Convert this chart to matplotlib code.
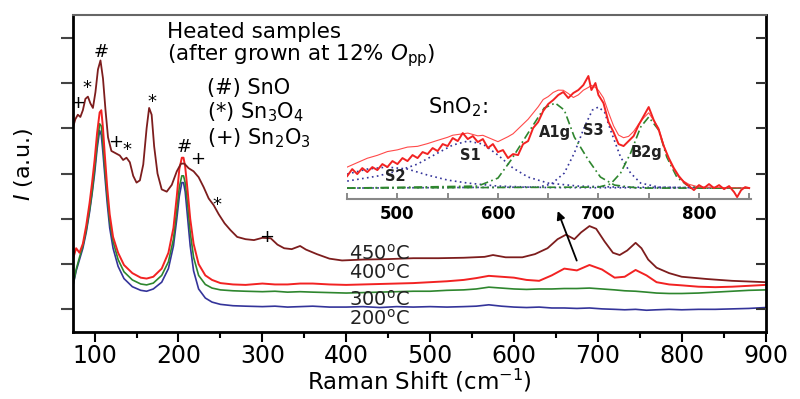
import numpy as np
import matplotlib
matplotlib.use("Agg")
import matplotlib.pyplot as plt
from matplotlib.ticker import MultipleLocator

# ---- main spectra (Raman shift in cm-1, intensity in arbitrary units) ----
x_low = [74, 78, 82, 86, 90, 94, 97, 100, 103, 106,
         108, 110, 112, 115, 118, 122, 128, 135, 145, 155,
         162, 170, 180, 188, 194, 198, 201, 204, 206, 208,
         211, 214, 218, 224, 232, 240, 250, 265, 280, 300,
         315, 330, 345, 360, 380, 400, 420, 440, 460, 480,
         500, 520, 540, 555, 570, 585, 600, 615, 630, 645,
         660, 675, 690, 705, 720, 732, 745, 758, 770, 785,
         800, 820, 840, 860, 880, 900]

y_200 = [1.0, 1.35, 1.6, 1.85, 2.2, 2.65, 3.05, 3.5, 4.05, 4.45,
         4.35, 3.95, 3.5, 2.85, 2.3, 1.85, 1.45, 1.18, 1.0, 0.92,
         0.9, 0.95, 1.1, 1.4, 1.9, 2.5, 3.0, 3.3, 3.3, 3.1,
         2.5, 1.9, 1.35, 0.95, 0.75, 0.66, 0.61, 0.58, 0.57, 0.56,
         0.57, 0.55, 0.56, 0.57, 0.55, 0.55, 0.56, 0.54, 0.56, 0.55,
         0.56, 0.55, 0.56, 0.57, 0.6, 0.57, 0.55, 0.54, 0.55, 0.53,
         0.53, 0.52, 0.53, 0.51, 0.5, 0.49, 0.5, 0.48, 0.49, 0.5,
         0.49, 0.5, 0.5, 0.51, 0.52, 0.54]

y_300 = [1.02, 1.38, 1.65, 1.9, 2.25, 2.7, 3.1, 3.6, 4.15, 4.6,
         4.55, 4.15, 3.65, 3.0, 2.45, 2.0, 1.6, 1.33, 1.15, 1.06,
         1.04, 1.08, 1.25, 1.55, 2.05, 2.7, 3.2, 3.45, 3.45, 3.3,
         2.8, 2.2, 1.65, 1.25, 1.05, 0.97, 0.93, 0.91, 0.9, 0.89,
         0.9, 0.88, 0.89, 0.88, 0.87, 0.86, 0.87, 0.88, 0.89, 0.9,
         0.9, 0.92, 0.93, 0.95, 0.99, 0.97, 0.95, 0.94, 0.95, 0.95,
         0.96, 0.96, 0.97, 0.95, 0.93, 0.91, 0.9, 0.88, 0.86, 0.85,
         0.85, 0.86, 0.88, 0.9, 0.92, 0.93]

y_400 = [1.6, 1.85, 1.75, 1.95, 2.35, 2.85, 3.3, 3.8, 4.4, 4.85,
         4.9, 4.5, 3.95, 3.2, 2.6, 2.1, 1.75, 1.48, 1.3, 1.2,
         1.18, 1.22, 1.4, 1.75, 2.3, 3.0, 3.6, 3.85, 3.85, 3.65,
         3.1, 2.5, 1.95, 1.5, 1.25, 1.15, 1.08, 1.05, 1.04, 1.07,
         1.05, 1.05, 1.07, 1.07, 1.05, 1.04, 1.05, 1.06, 1.07, 1.08,
         1.1, 1.12, 1.15, 1.19, 1.24, 1.22, 1.2, 1.15, 1.13, 1.25,
         1.4, 1.36, 1.48, 1.38, 1.2, 1.22, 1.37, 1.25, 1.1, 1.05,
         1.03, 1.0, 0.99, 1.0, 1.02, 1.04]

x_450 = [74, 77, 80, 83, 86, 89, 92, 95, 98, 101,
         104, 107, 110, 113, 116, 120, 125, 130, 134, 138,
         142, 146, 150, 154, 158, 162, 165, 168, 171, 175,
         180, 186, 192, 198, 203, 207, 212, 218, 224, 230,
         236, 242, 248, 255, 262, 270, 280, 290, 300, 310,
         318, 326, 335, 345, 352, 365, 380, 395, 420, 450,
         480, 510, 540, 565, 575, 590, 610, 625, 640, 652,
         662, 672, 680, 690, 698, 708, 718, 726, 735, 745,
         752, 760, 770, 785, 800, 830, 860, 900]

y_450 = [4.5, 4.7, 4.8, 4.75, 4.9, 5.15, 5.2, 5.05, 4.95, 5.3,
         5.8, 6.0, 5.6, 4.9, 4.3, 4.0, 3.95, 3.9, 3.8, 3.85,
         3.75, 3.45, 3.3, 3.35, 3.7, 4.5, 4.95, 4.8, 4.1, 3.5,
         3.15, 3.1, 3.25, 3.55, 3.72, 3.72, 3.62, 3.55, 3.42, 3.2,
         2.95, 2.8, 2.6, 2.4, 2.25, 2.1, 2.05, 2.03, 2.08, 2.07,
         1.93, 1.85, 1.83, 1.9, 1.82, 1.72, 1.62, 1.58, 1.6, 1.61,
         1.63, 1.63, 1.64, 1.66, 1.7, 1.65, 1.65, 1.72, 1.85, 2.05,
         2.15, 2.05, 2.2, 2.34, 2.28, 2.0, 1.75, 1.7, 1.8, 1.97,
         1.85, 1.6, 1.42, 1.3, 1.22, 1.17, 1.13, 1.1]

temp_labels = ["450$^{\\rm o}$C", "400$^{\\rm o}$C", "300$^{\\rm o}$C", "200$^{\\rm o}$C"]

# ---- inset: SnO2 region of the 400 C spectrum with fitted peaks ----
xin = [450, 455, 460, 465, 470, 475, 480, 485, 490, 495,
       500, 505, 510, 515, 520, 525, 530, 535, 540, 545,
       550, 555, 560, 565, 570, 575, 580, 585, 590, 595,
       600, 605, 610, 615, 620, 625, 630, 635, 640, 645,
       650, 655, 660, 665, 670, 675, 680, 685, 690, 693,
       697, 700, 705, 710, 715, 720, 725, 730, 735, 740,
       745, 750, 755, 760, 765, 770, 775, 780, 785, 790,
       795, 800, 805, 810, 815, 820, 825, 830, 835, 838,
       842, 846, 850]
yin = [0.12, 0.19, 0.14, 0.2, 0.16, 0.21, 0.18, 0.24, 0.21, 0.27,
       0.24, 0.3, 0.27, 0.33, 0.3, 0.36, 0.34, 0.4, 0.37, 0.44,
       0.42, 0.5, 0.47, 0.55, 0.49, 0.52, 0.46, 0.49, 0.4, 0.44,
       0.36, 0.38, 0.3, 0.34, 0.33, 0.44, 0.47, 0.6, 0.66, 0.77,
       0.84, 0.88, 0.93, 0.96, 0.9, 0.95, 0.98, 1.03, 1.12, 0.98,
       1.05, 0.93, 0.85, 0.66, 0.56, 0.44, 0.42, 0.47, 0.52, 0.63,
       0.72, 0.81, 0.68, 0.58, 0.42, 0.3, 0.2, 0.12, 0.06, 0.02,
       -0.02, 0.03, 0.0, 0.04, 0.0, 0.03, -0.01, 0.02, -0.04, -0.09,
       -0.02, 0.01, 0.0]

s2_x = [450, 470, 490, 510, 530, 550, 570, 600, 650, 850]
s2_y = [0.14, 0.19, 0.21, 0.19, 0.13, 0.08, 0.05, 0.02, 0.005, 0.0]
s1_x = [450, 480, 500, 520, 540, 555, 570, 585, 600, 615, 630, 650, 680, 720, 850]
s1_y = [0.07, 0.12, 0.17, 0.24, 0.35, 0.43, 0.47, 0.44, 0.33, 0.2, 0.11, 0.05, 0.02, 0.01, 0.0]
a1g_x = [450, 580, 600, 613, 630, 646, 657, 666, 676, 690, 702, 716, 740, 850]
a1g_y = [0.0, 0.02, 0.1, 0.28, 0.55, 0.8, 0.85, 0.78, 0.51, 0.28, 0.11, 0.03, 0.0, 0.0]
s3_x = [450, 640, 653, 666, 676, 686, 694, 700, 706, 712, 722, 732, 742, 760, 850]
s3_y = [0.0, 0.01, 0.04, 0.15, 0.35, 0.61, 0.78, 0.81, 0.76, 0.58, 0.31, 0.15, 0.05, 0.01, 0.0]
b2g_x = [450, 700, 712, 722, 732, 742, 750, 760, 768, 778, 788, 800, 850]
b2g_y = [0.0, 0.01, 0.04, 0.15, 0.35, 0.61, 0.71, 0.58, 0.31, 0.11, 0.03, 0.0, 0.0]

c_brown = "#7d1d1d"
c_red = "#f22222"
c_green = "#2e862e"
c_blue = "#34349a"

fig = plt.figure(figsize=(8, 3.99), dpi=100)
ax = fig.add_axes([0.091, 0.168, 0.866, 0.794])

ax.plot(x_low, y_200, color=c_blue, lw=1.2)
ax.plot(x_low, y_300, color=c_green, lw=1.2)
ax.plot(x_low, y_400, color=c_red, lw=1.4)
ax.plot(x_450, y_450, color=c_brown, lw=1.3)

ax.set_xlim(74, 900)
ax.set_ylim(0, 7)
ax.xaxis.set_major_locator(MultipleLocator(100))
ax.xaxis.set_minor_locator(MultipleLocator(50))
ax.set_yticks(np.arange(0.5, 7, 1.0))
ax.set_yticklabels([])
ax.tick_params(axis="x", which="major", direction="out", length=7, width=1.5,
               labelsize=17, pad=2, top=False)
ax.tick_params(axis="x", which="minor", direction="out", length=4, width=1.5, top=False)
ax.tick_params(axis="y", direction="out", length=9, width=1.5, color="#444444")
for side in ["left", "bottom", "right"]:
    ax.spines[side].set_linewidth(2)
ax.spines["top"].set_linewidth(1.5)
ax.spines["top"].set_color("#666666")

# inward ticks on the right side
rt = ax.twinx()
rt.set_ylim(0, 7)
rt.set_yticks(np.arange(0.5, 7, 1.0))
rt.tick_params(axis="y", direction="in", length=7, width=1.5, labelright=False,
               color="#333333")
for s in rt.spines.values():
    s.set_visible(False)

ax.set_xlabel("Raman Shift (cm$^{-1}$)", fontsize=16.5, labelpad=-1)
ax.set_ylabel("$I$ (a.u.)", fontsize=16)
ax.yaxis.set_label_coords(-0.055, 0.53)

# temperature labels
for lab, ty in zip(temp_labels, [1.74, 1.30, 0.72, 0.30]):
    ax.text(403, ty, lab, fontsize=14, ha="left", va="center", color="#222222")

# phase markers
marks = [("+", 80, 5.07), ("*", 91, 5.38), ("#", 108, 6.18), ("+", 125, 4.2),
         ("*", 138, 4.02), ("*", 168, 5.08), ("#", 207, 4.08), ("+", 223, 3.82),
         ("*", 246, 2.8), ("+", 305, 2.1)]
for m, mx, my in marks:
    ax.text(mx, my, m, fontsize=13, ha="center", va="center")

ax.text(186, 6.62, "Heated samples", fontsize=15.5, va="center")
ax.text(186, 6.11, "(after grown at 12% $O_{\\rm pp}$)", fontsize=15.5, va="center")
ax.text(234, 5.39, "(#) SnO", fontsize=15, va="center")
ax.text(234, 4.86, "(*) Sn$_3$O$_4$", fontsize=15, va="center")
ax.text(234, 4.28, "(+) Sn$_2$O$_3$", fontsize=15, va="center")

ax.annotate("", xy=(651, 2.73), xytext=(676, 1.52),
            arrowprops=dict(arrowstyle="-|>", color="black", lw=1.3, mutation_scale=12))

# inset
ins = fig.add_axes([0.434, 0.501, 0.505, 0.311])
ins.patch.set_visible(False)
ins.plot(s2_x, s2_y, color=c_blue, ls=(0, (1, 2)), lw=1.2)
ins.plot(s1_x, s1_y, color=c_blue, ls=(0, (1, 2)), lw=1.2)
ins.plot(s3_x, s3_y, color=c_blue, ls=(0, (1, 2)), lw=1.2)
ins.plot(a1g_x, a1g_y, color=c_green, ls=(0, (5, 2, 1, 2)), lw=1.2)
ins.plot(b2g_x, b2g_y, color=c_green, ls=(0, (5, 2, 1, 2)), lw=1.2)
fit = (np.interp(xin, s2_x, s2_y) + np.interp(xin, s1_x, s1_y) + np.interp(xin, a1g_x, a1g_y)
       + np.interp(xin, s3_x, s3_y) + np.interp(xin, b2g_x, b2g_y))
ins.plot(xin, fit, color="#ff4a4a", lw=0.8)
ins.plot(xin, yin, color=c_red, lw=1.4)

ins.set_xlim(450, 852)
ins.set_ylim(-0.11, 1.13)
ins.set_yticks([])
ins.xaxis.set_major_locator(MultipleLocator(100))
ins.xaxis.set_minor_locator(MultipleLocator(50))
ins.tick_params(axis="x", which="both", direction="in", length=4, width=1.2,
                color="#777777", labelsize=12, pad=4)
for lab in ins.get_xticklabels():
    lab.set_fontweight("bold")
for side in ["left", "right", "top"]:
    ins.spines[side].set_visible(False)
ins.spines["bottom"].set_color("#888888")
ins.spines["bottom"].set_linewidth(1.5)

for lab, lx, ly in [("S2", 498, 0.12), ("S1", 573, 0.33), ("A1g", 657, 0.56),
                    ("S3", 695, 0.58), ("B2g", 748, 0.36)]:
    ins.text(lx, ly, lab, fontsize=10.5, fontweight="bold", ha="center", va="center",
             color="#222222")
ins.text(530, 0.81, "SnO$_2$:", fontsize=15, va="center")

fig.savefig("out.png", dpi=100)
